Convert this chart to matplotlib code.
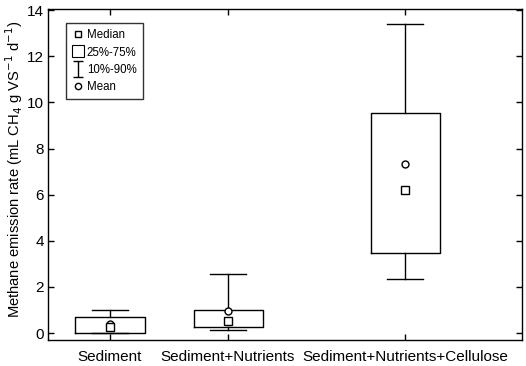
import matplotlib
matplotlib.use("Agg")
import matplotlib.pyplot as plt
from matplotlib.lines import Line2D
from matplotlib.path import Path

plt.rcParams['font.family'] = ['Liberation Sans', 'DejaVu Sans']

# data
categories = ['Sediment', 'Sediment+Nutrients', 'Sediment+Nutrients+Cellulose']
positions = [1, 2, 3.5]
p10 = [0.0, 0.13, 2.34]
q25 = [0.0, 0.25, 3.48]
medians = [0.27, 0.53, 6.19]
q75 = [0.71, 1.0, 9.52]
p90 = [0.98, 2.54, 13.39]
means = [0.40, 0.94, 7.33]

fig = plt.figure(figsize=(5.26, 3.66), dpi=100)
ax = fig.add_axes([48 / 526, 26 / 366, 474 / 526, 331 / 366])

stats = []
for i in range(len(categories)):
    stats.append(dict(label=categories[i], whislo=p10[i], q1=q25[i], med=medians[i],
                      q3=q75[i], whishi=p90[i], mean=means[i]))

lw = 1.0
ax.bxp(stats, positions=positions, widths=0.585, capwidths=0.3, showfliers=False,
       showmeans=True,
       boxprops=dict(color='black', linewidth=lw),
       whiskerprops=dict(color='black', linewidth=lw),
       capprops=dict(color='black', linewidth=lw),
       medianprops=dict(visible=False),
       meanprops=dict(marker='o', markerfacecolor='white', markeredgecolor='black',
                      markersize=5, markeredgewidth=1))
ax.plot(positions, medians, linestyle='none', marker='s', markerfacecolor='white',
        markeredgecolor='black', markersize=6, markeredgewidth=1, zorder=4)

ax.set_xlim(0.475, 4.49)
ax.set_ylim(-0.3, 14.05)
ax.set_yticks(range(0, 15, 2))
ax.set_xticks(positions)
ax.set_xticklabels(categories)
ax.tick_params(direction='in', length=4, width=1, labelsize=11, top=True, right=True)
ax.tick_params(axis='x', pad=7)
ax.tick_params(axis='y', pad=3)
for s in ax.spines.values():
    s.set_linewidth(1)
ax.set_ylabel('Methane emission rate (mL CH$_4$ g VS$^{-1}$ d$^{-1}$)', fontsize=10.6)
ax.yaxis.set_label_coords(-0.048, 0.515)

# legend
ibeam = Path([(-0.7, -1), (0.7, -1), (0, -1), (0, 1), (-0.7, 1), (0.7, 1)],
             [Path.MOVETO, Path.LINETO, Path.MOVETO, Path.LINETO, Path.MOVETO, Path.LINETO])
handles = [
    Line2D([], [], linestyle='none', marker='s', markerfacecolor='white',
           markeredgecolor='black', markersize=5),
    Line2D([], [], linestyle='none', marker='s', markerfacecolor='white',
           markeredgecolor='black', markersize=9, markeredgewidth=0.8),
    Line2D([], [], linestyle='none', marker=ibeam, color='black', markersize=11,
           markeredgewidth=1),
    Line2D([], [], linestyle='none', marker='o', markerfacecolor='white',
           markeredgecolor='black', markersize=4.5),
]
leg = ax.legend(handles, ['Median', '25%-75%', '10%-90%', 'Mean'], loc='upper left',
                bbox_to_anchor=(18 / 474, 1 - 14 / 331), fontsize=8.3, frameon=True,
                fancybox=False, handlelength=0.9, handletextpad=0.35, labelspacing=0.45,
                borderpad=0.55, borderaxespad=0)
leg.get_frame().set_edgecolor('black')
leg.get_frame().set_linewidth(1)

fig.savefig('out.png', dpi=100)
